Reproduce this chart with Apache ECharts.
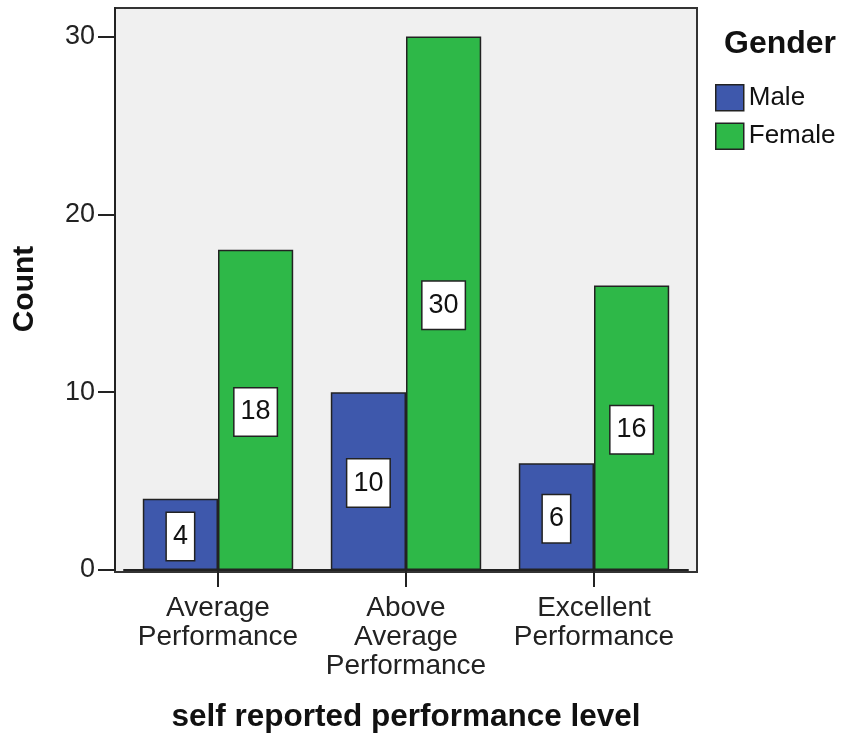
<!DOCTYPE html>
<html>
<head>
<meta charset="utf-8">
<script src="https://cdn.jsdelivr.net/npm/echarts@6/dist/echarts.min.js"></script>
<style>
html,body{margin:0;padding:0;background:#fff;}
#chart{width:846px;height:738px;}
</style>
</head>
<body>
<div id="chart"></div>
<script>
const categories = ['Average\nPerformance', 'Above\nAverage\nPerformance', 'Excellent\nPerformance'];
const seriesNames = ['Male', 'Female'];
const maleValues = [4, 10, 6];
const femaleValues = [18, 30, 16];
const yTicks = [0, 10, 20, 30];
const yMax = 31.6;

const FONT = '"Liberation Sans", Arial, sans-serif';
const chart = echarts.init(document.getElementById('chart'), null, {renderer: 'canvas'});

const labelStyle = {
  show: true,
  position: 'inside',
  offset: [0, 2],
  color: '#111',
  fontFamily: FONT,
  fontSize: 27,
  backgroundColor: '#ffffff',
  borderColor: '#222',
  borderWidth: 1.5,
  padding: [10, 6]
};

chart.setOption({
  animation: false,
  backgroundColor: '#ffffff',
  title: {
    text: 'Gender',
    left: 724,
    top: 27,
    padding: 0,
    textStyle: {fontFamily: FONT, fontSize: 32, fontWeight: 'bold', color: '#111', lineHeight: 34}
  },
  legend: {
    orient: 'vertical',
    left: 715,
    top: 84,
    padding: 0,
    itemWidth: 28,
    itemHeight: 26,
    itemGap: 11,
    icon: 'rect',
    itemStyle: {borderColor: '#222', borderWidth: 1.5},
    textStyle: {fontFamily: FONT, fontSize: 26, color: '#111'},
    data: seriesNames
  },
  grid: [
    {left: 115, top: 8, width: 582, height: 564, show: true, backgroundColor: '#f0f0f0', borderColor: '#333', borderWidth: 2},
    {left: 124, top: 8, width: 564, height: 564, show: false}
  ],
  xAxis: [
    {gridIndex: 0, type: 'value', show: false, min: 0, max: 1},
    {
      gridIndex: 1,
      type: 'category',
      data: categories,
      axisLine: {show: true, lineStyle: {color: '#222', width: 2}},
      axisTick: {show: true, alignWithLabel: true, length: 17, lineStyle: {color: '#222', width: 2}},
      axisLabel: {fontFamily: FONT, fontSize: 28, color: '#222', lineHeight: 29, margin: 24, interval: 0},
      name: 'self reported performance level',
      nameLocation: 'middle',
      nameGap: 131,
      nameTextStyle: {fontFamily: FONT, fontSize: 31.5, fontWeight: 'bold', color: '#111'}
    }
  ],
  yAxis: [
    {gridIndex: 0, type: 'value', show: false, min: 0, max: 1},
    {
      gridIndex: 1,
      type: 'value',
      min: 0,
      max: yMax,
      interval: 10,
      offset: 9,
      splitLine: {show: false},
      axisLine: {show: true, lineStyle: {color: '#222', width: 2}},
      axisTick: {show: true, length: 17, lineStyle: {color: '#222', width: 2}, customValues: yTicks},
      axisLabel: {fontFamily: FONT, fontSize: 27, color: '#222', margin: 20, customValues: yTicks},
      name: 'Count',
      nameLocation: 'middle',
      nameGap: 75,
      nameTextStyle: {fontFamily: FONT, fontSize: 30, fontWeight: 'bold', color: '#111'}
    }
  ],
  series: [
    {
      name: seriesNames[0],
      type: 'bar',
      xAxisIndex: 1,
      yAxisIndex: 1,
      data: maleValues,
      barGap: '0%',
      barCategoryGap: '20%',
      itemStyle: {color: '#3e58ac', borderColor: '#222', borderWidth: 1.5},
      label: labelStyle
    },
    {
      name: seriesNames[1],
      type: 'bar',
      xAxisIndex: 1,
      yAxisIndex: 1,
      data: femaleValues,
      barGap: '0%',
      barCategoryGap: '20%',
      itemStyle: {color: '#2eb848', borderColor: '#222', borderWidth: 1.5},
      label: labelStyle
    }
  ]
});
</script>
</body>
</html>
